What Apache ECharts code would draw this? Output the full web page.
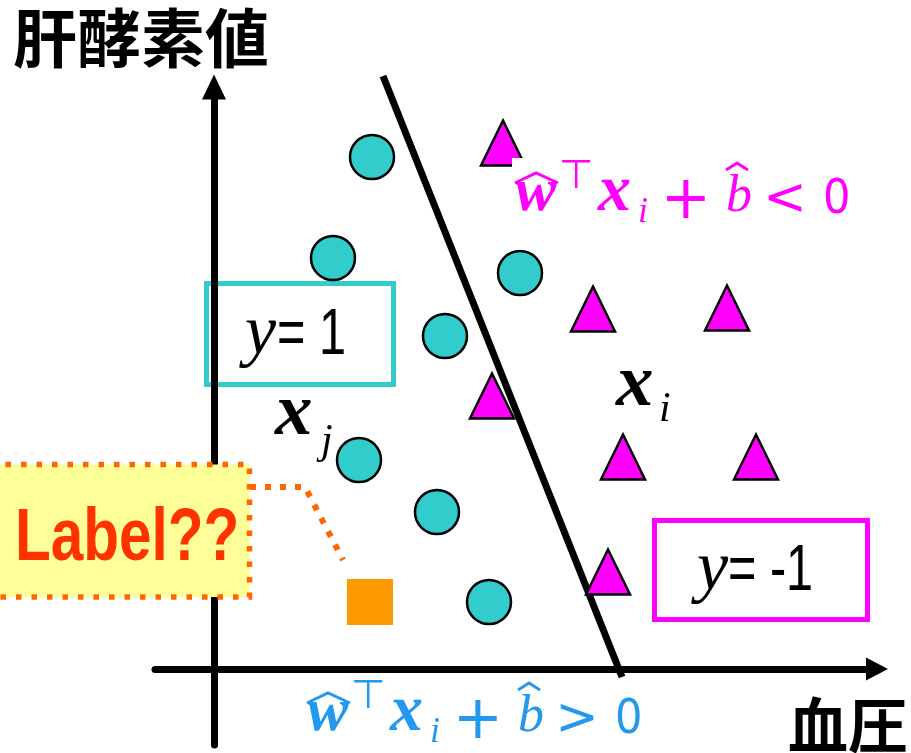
<!DOCTYPE html>
<html>
<head>
<meta charset="utf-8">
<script src="https://cdn.jsdelivr.net/npm/echarts@6/dist/echarts.min.js"></script>
<style>
html, body { margin: 0; padding: 0; background: #fff; }
#main { width: 911px; height: 753px; }
</style>
</head>
<body>
<div id="main"></div>
<script>
// データ (原点 = 2本の軸の交点)
var circlePts = [[158, 512], [119, 411], [306, 396], [231, 333], [145, 209], [223, 157], [275, 67]]
var trianglePts = [[289, 526], [379, 360], [513, 361], [278, 273], [409, 212], [542, 212], [394, 97]]
var unknownPts = [[156, 67]]
var boundary = [[169, 593], [408, -8]]
var leader = [[36, 182], [91, 182], [129, 109]]
var xRange = [-59, 663]
var yRange = [-76, 582]
var yLabel = '肝酵素値'
var xLabel = '血圧'

var TEAL = '#33CCCC', MAGENTA = '#FF00FF', BLUE = '#2299EE', ORANGE = '#FF6600'
var SERIF_BI = 'italic bold {s}px "Liberation Serif", "Times New Roman", serif'
var SERIF_I = 'italic {s}px "Liberation Serif", "Times New Roman", serif'
var SANS = '{s}px "Liberation Sans", Arial, sans-serif'
var DSANS = '{s}px "DejaVu Sans", sans-serif'

// 文字を置く (yb = ベースライン, sx = 横の縮み)
function tx(x, yb, s, font, size, color, align, sx) {
	return {
		type: 'text', z: 20, x: x, y: yb - size * 0.3, scaleX: sx || 1,
		style: { text: s, font: font.replace('{s}', size), fill: color, align: align || 'left', verticalAlign: 'middle' }
	}
}
function hat(pts, color) {
	return { type: 'polyline', z: 20, shape: { points: pts }, style: { stroke: color, lineWidth: 3, fill: null } }
}

// 式  w^T x_i + b < 0
function formula(x0, yb, color, rel) {
	return [
		tx(x0, yb, 'w', SERIF_BI, 62, color),
		hat([[x0, yb - 30], [x0 + 21, yb - 40], [x0 + 43, yb - 30]], color),
		tx(x0 + 44, yb - 23, '⊤', DSANS, 40, color),
		tx(x0 + 83, yb, 'x', SERIF_BI, 66, color),
		tx(x0 + 123, yb + 10, 'i', SERIF_I, 36, color),
		tx(x0 + 171, yb + 7, '+', DSANS, 60, color, 'center'),
		tx(x0 + 211, yb, 'b', SERIF_I, 52, color),
		hat([[x0 + 211, yb - 43], [x0 + 222, yb - 50], [x0 + 233, yb - 43]], color),
		tx(x0 + 270, yb + 3, rel, DSANS, 52, color, 'center'),
		tx(x0 + 308, yb + 2, '0', DSANS, 48, color, 'left', 0.9)
	]
}

var graphics = [
	// 式の白い背景
	{ type: 'rect', z: 10, shape: { x: 512, y: 158, width: 350, height: 70 }, style: { fill: '#fff' } },
	// y = 1 の枠
	{ type: 'rect', z: 1, shape: { x: 206.5, y: 283.5, width: 187, height: 101 }, style: { fill: null, stroke: TEAL, lineWidth: 5 } },
	tx(245, 356, 'y', SERIF_I, 70, '#000'),
	tx(277, 356, '= 1', SANS, 64, '#000', 'left', 0.76),
	// y = -1 の枠
	{ type: 'rect', z: 1, shape: { x: 654.5, y: 520.5, width: 213, height: 99 }, style: { fill: null, stroke: MAGENTA, lineWidth: 5 } },
	tx(697, 592, 'y', SERIF_I, 70, '#000'),
	tx(728, 592, '= -1', SANS, 64, '#000', 'left', 0.76),
	// x_j, x_i
	tx(275, 437, 'x', SERIF_BI, 75, '#000'),
	tx(321, 455, 'j', SERIF_I, 42, '#000'),
	tx(616, 408, 'x', SERIF_BI, 75, '#000'),
	tx(659, 423, 'i', SERIF_I, 42, '#000'),
	// Label?? の枠
	{ type: 'rect', z: 15, shape: { x: -10, y: 464.5, width: 259.5, height: 132.5 }, style: { fill: '#FFFF99', stroke: ORANGE, lineWidth: 5.5, lineDash: [5.5, 10] } },
	tx(15, 562, 'Label??', 'bold {s}px "Liberation Sans", Arial, sans-serif', 75, '#FF3300', 'left', 0.78),
	// 軸の名前
	{ type: 'text', z: 20, x: 13, y: 38, style: { text: yLabel, font: 'bold 64px "Noto Sans CJK JP"', fill: '#000', verticalAlign: 'middle' } },
	{ type: 'text', z: 20, x: 788, y: 725, style: { text: xLabel, font: 'bold 60px "Noto Sans CJK JP"', fill: '#000', verticalAlign: 'middle' } }
].concat(formula(515, 213, MAGENTA, '<'), formula(307, 733, BLUE, '>'))

var chart = echarts.init(document.getElementById('main'))
var option = {
	animation: false,
	grid: { left: 155, right: 34, top: 87, bottom: 8 },
	xAxis: {
		type: 'value', min: xRange[0], max: xRange[1], z: 5,
		axisLine: { onZero: true, symbol: ['none', 'triangle'], symbolSize: [23, 22], lineStyle: { color: '#000', width: 7 } },
		axisTick: { show: false }, axisLabel: { show: false }, splitLine: { show: false }
	},
	yAxis: {
		type: 'value', min: yRange[0], max: yRange[1], z: 5,
		axisLine: { onZero: true, symbol: ['none', 'triangle'], symbolSize: [24, 25], lineStyle: { color: '#000', width: 7 } },
		axisTick: { show: false }, axisLabel: { show: false }, splitLine: { show: false }
	},
	series: [
		{
			type: 'line', data: boundary, symbol: 'none', clip: false, z: 6,
			lineStyle: { color: '#000', width: 7 }
		},
		{
			type: 'line', data: leader, symbol: 'none', clip: false, z: 6,
			lineStyle: { color: ORANGE, width: 6, type: [6, 9] }
		},
		{
			type: 'scatter', data: circlePts, symbol: 'circle', symbolSize: 44, z: 7,
			itemStyle: { color: TEAL, borderColor: '#000', borderWidth: 2.5, opacity: 1 }
		},
		{
			type: 'scatter', data: trianglePts, symbol: 'triangle', symbolSize: [44, 45], z: 7,
			itemStyle: { color: MAGENTA, borderColor: '#000', borderWidth: 2.5, opacity: 1 }
		},
		{
			type: 'scatter', data: unknownPts, symbol: 'rect', symbolSize: 46, z: 7,
			itemStyle: { color: '#FF9900', opacity: 1 }
		}
	],
	graphic: graphics
}
chart.setOption(option)
</script>
</body>
</html>
